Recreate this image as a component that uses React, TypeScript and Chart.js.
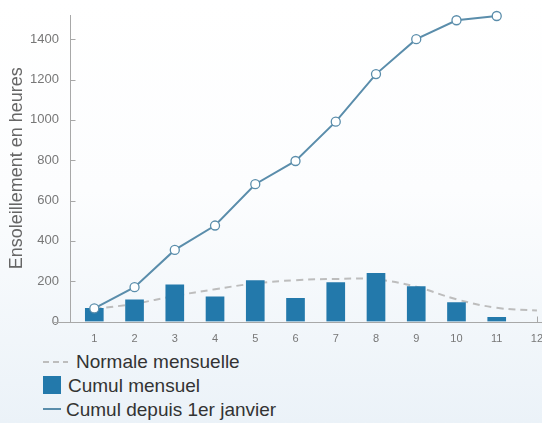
import React, { useEffect, useRef } from "react";
import { Chart, registerables } from "chart.js";

Chart.register(...registerables);

const months = [1, 2, 3, 4, 5, 6, 7, 8, 9, 10, 11, 12];
const monthlySunshine = [65, 107, 182, 122, 203, 115, 193, 239, 173, 94, 21];
const cumulativeSunshine = [65, 170, 355, 476, 681, 796, 991, 1227, 1400, 1494, 1515];
const monthlyNormal = [62, 88, 127, 160, 189, 205, 211, 209, 172, 110, 68, 54];
const yTickValues = [0, 200, 400, 600, 800, 1000, 1200, 1400];

const legendLabels = ["Normale mensuelle", "Cumul mensuel", "Cumul depuis 1er janvier"];
const yTitle = "Ensoleillement en heures";

const BAR_COLOR = "#2379ab";
const LINE_COLOR = "#5a8dab";
const NORMAL_COLOR = "#bdbdbd";
const AXIS_COLOR = "#a8a8a8";
const FONT = "'Liberation Sans', Arial, sans-serif";

const axisPlugin = {
  id: "axisLines",
  afterDraw(chart: any) {
    const { ctx, chartArea, scales } = chart;
    const y = scales.y;
    const x = scales.x;
    ctx.save();
    ctx.strokeStyle = AXIS_COLOR;
    ctx.lineWidth = 1;
    ctx.beginPath();
    const ax = Math.round(chartArea.left) + 0.5;
    const by = Math.round(y.getPixelForValue(0)) + 0.5;
    ctx.moveTo(ax, chartArea.top);
    ctx.lineTo(ax, by);
    ctx.moveTo(ax - 18, by);
    ctx.lineTo(chartArea.right, by);
    for (const v of yTickValues) {
      const py = Math.round(y.getPixelForValue(v)) + 0.5;
      ctx.moveTo(ax, py);
      ctx.lineTo(ax + 5, py);
    }
    const px12 = Math.round(x.getPixelForValue(12)) + 0.5;
    ctx.moveTo(px12, by);
    ctx.lineTo(px12, by - 6);
    ctx.stroke();
    ctx.restore();
  },
};

function App() {
  const canvasRef = useRef<HTMLCanvasElement | null>(null);

  useEffect(() => {
    const canvas = canvasRef.current;
    if (!canvas) return;
    const H = 346;
    const chart = new Chart(canvas, {
      type: "bar",
      data: {
        datasets: [
          {
            type: "line",
            label: legendLabels[2],
            data: cumulativeSunshine.map((v, i) => ({ x: months[i], y: v })),
            borderColor: LINE_COLOR,
            borderWidth: 2,
            pointRadius: 4.5,
            pointBackgroundColor: "#ffffff",
            pointBorderColor: LINE_COLOR,
            pointBorderWidth: 1.3,
            tension: 0,
            clip: false,
            order: 0,
          } as any,
          {
            type: "bar",
            label: legendLabels[1],
            data: monthlySunshine.map((v, i) => ({ x: months[i], y: v })),
            backgroundColor: BAR_COLOR,
            barThickness: 18,
            order: 1,
          } as any,
          {
            type: "line",
            label: legendLabels[0],
            data: monthlyNormal.map((v, i) => ({ x: months[i], y: v })),
            borderColor: NORMAL_COLOR,
            borderWidth: 2,
            borderDash: [7, 5],
            pointRadius: 0,
            tension: 0.4,
            order: 2,
          } as any,
        ],
      },
      options: {
        animation: false,
        responsive: false,
        maintainAspectRatio: false,
        layout: { padding: { top: 15, left: 0, right: 0, bottom: 0 } },
        plugins: {
          legend: { display: false },
          tooltip: { enabled: false },
        },
        scales: {
          x: {
            type: "linear",
            offset: false,
            min: 0.396,
            max: 12.13,
            grid: { display: false, offset: false },
            border: { display: false },
            ticks: {
              stepSize: 1,
              autoSkip: false,
              maxRotation: 0,
              color: "#777",
              font: { family: FONT, size: 11 },
              padding: 3,
              callback: (v: any) => String(v),
            },
            afterBuildTicks: (scale: any) => {
              scale.ticks = months.map((m) => ({ value: m }));
            },
            afterFit: (scale: any) => {
              scale.height = H - 321.5;
              scale.paddingLeft = 0;
              scale.paddingRight = 0;
            },
          },
          y: {
            type: "linear",
            min: 0,
            max: 1520,
            grid: { display: false },
            border: { display: false },
            ticks: {
              stepSize: 200,
              includeBounds: false,
              color: "#777",
              font: { family: FONT, size: 13 },
              padding: 3,
              callback: (v: any) => String(v),
            },
            afterBuildTicks: (scale: any) => {
              scale.ticks = yTickValues.map((v) => ({ value: v }));
            },
            title: {
              display: true,
              text: yTitle,
              color: "#666",
              font: { family: FONT, size: 18 },
              padding: { top: 6, bottom: 0 },
            },
            afterFit: (scale: any) => {
              scale.width = 70;
              scale.paddingTop = 0;
              scale.paddingBottom = 0;
            },
          },
        },
      },
      plugins: [axisPlugin],
    });
    return () => chart.destroy();
  }, []);

  const textStyle: React.CSSProperties = {
    position: "absolute",
    fontFamily: FONT,
    fontSize: 19,
    lineHeight: "23px",
    color: "#333",
    whiteSpace: "nowrap",
  };

  return (
    <div
      style={{
        position: "fixed",
        left: 0,
        top: 0,
        width: 542,
        height: 423,
        overflow: "hidden",
        background: "linear-gradient(180deg, #ffffff 0%, #fcfdfe 45%, #ebf2f8 100%)",
      }}
    >
      <canvas
        ref={canvasRef}
        width={548}
        height={346}
        style={{ position: "absolute", left: 0, top: 0, width: 548, height: 346 }}
      />
      <div
        style={{
          position: "absolute",
          left: 43,
          top: 361,
          width: 25,
          height: 2,
          background: `repeating-linear-gradient(to right, ${NORMAL_COLOR} 0px, ${NORMAL_COLOR} 6px, transparent 6px, transparent 10px)`,
        }}
      />
      <div style={{ ...textStyle, left: 76, top: 350 }}>{legendLabels[0]}</div>
      <div
        style={{ position: "absolute", left: 43, top: 376, width: 18, height: 18, background: BAR_COLOR }}
      />
      <div style={{ ...textStyle, left: 68, top: 374 }}>{legendLabels[1]}</div>
      <div
        style={{ position: "absolute", left: 43, top: 408, width: 18, height: 2, background: LINE_COLOR }}
      />
      <div style={{ ...textStyle, left: 66, top: 398 }}>{legendLabels[2]}</div>
    </div>
  );
}

export default App;
